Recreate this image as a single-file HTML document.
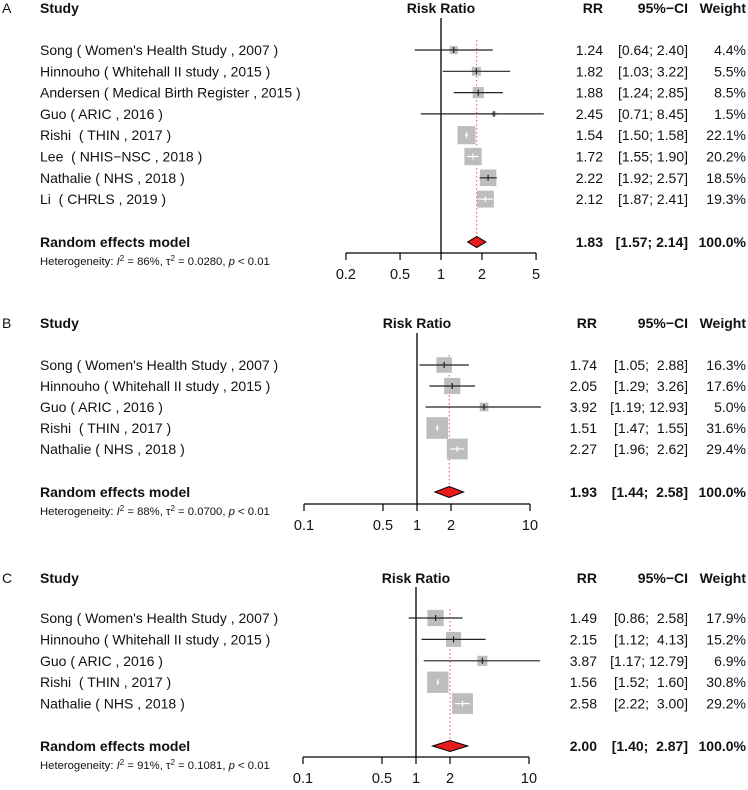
<!DOCTYPE html>
<html><head><meta charset="utf-8"><style>
body{margin:0;background:#fff}
svg{display:block;font-family:"Liberation Sans",Arial,sans-serif}
text{white-space:pre}
</style></head><body>
<svg id="c" width="748" height="790"></svg>
<script>
const studiesA=["Song ( Women's Health Study , 2007 )","Hinnouho ( Whitehall II study , 2015 )","Andersen ( Medical Birth Register , 2015 )","Guo ( ARIC , 2016 )","Rishi  ( THIN , 2017 )","Lee  ( NHIS−NSC , 2018 )","Nathalie ( NHS , 2018 )","Li  ( CHRLS , 2019 )"];
const rrA=[1.24,1.82,1.88,2.45,1.54,1.72,2.22,2.12];
const loA=[0.64,1.03,1.24,0.71,1.50,1.55,1.92,1.87];
const hiA=[2.40,3.22,2.85,8.45,1.58,1.90,2.57,2.41];
const wA=[4.4,5.5,8.5,1.5,22.1,20.2,18.5,19.3];
const pooledA=[1.83,1.57,2.14];
const hetA=["86%","0.0280","< 0.01"];
const ticksA=[0.2,0.5,1,2,5];

const studiesB=["Song ( Women's Health Study , 2007 )","Hinnouho ( Whitehall II study , 2015 )","Guo ( ARIC , 2016 )","Rishi  ( THIN , 2017 )","Nathalie ( NHS , 2018 )"];
const rrB=[1.74,2.05,3.92,1.51,2.27];
const loB=[1.05,1.29,1.19,1.47,1.96];
const hiB=[2.88,3.26,12.93,1.55,2.62];
const wB=[16.3,17.6,5.0,31.6,29.4];
const pooledB=[1.93,1.44,2.58];
const hetB=["88%","0.0700","< 0.01"];
const ticksB=[0.1,0.5,1,2,10];

const studiesC=studiesB;
const rrC=[1.49,2.15,3.87,1.56,2.58];
const loC=[0.86,1.12,1.17,1.52,2.22];
const hiC=[2.58,4.13,12.79,1.60,3.00];
const wC=[17.9,15.2,6.9,30.8,29.2];
const pooledC=[2.00,1.40,2.87];
const hetC=["91%","0.1081","< 0.01"];
const ticksC=[0.1,0.5,1,2,10];

const NS="http://www.w3.org/2000/svg";
const svg=document.getElementById('c');
function mk(tag,attrs,parent){const e=document.createElementNS(NS,tag);for(const k in attrs)e.setAttribute(k,attrs[k]);(parent||svg).appendChild(e);return e;}
function txt(s,x,y,o,parent){const e=mk('text',Object.assign({x:x,y:y,'font-size':14,fill:'#111'},o||{}),parent);e.textContent=s;return e;}
const f2=v=>v.toFixed(2);

function panel(cfg){
  const g=mk('g',{});
  
  
  const x=v=>cfg.x1+Math.log10(v)*cfg.ppd;
  const pad=Math.max(...cfg.hi)>=10;
  const fmtHi=v=>(pad&&v<10?' ':'')+f2(v);
  const fmtCI=(l,h)=>'['+f2(l)+'; '+fmtHi(h)+']';
  const lab=txt(cfg.letter,2,cfg.top+13,{'font-size':14},g);
  
  const hdr=[["Study",40,'start'],["Risk Ratio",cfg.x1,'middle'],["RR",cfg.rrX,'end'],["95%−CI",688,'end'],["Weight",746,'end']];
  hdr.forEach(h=>{const t=txt(h[0],h[1],cfg.top+13,{'font-weight':'bold','text-anchor':h[2]},g);
    });
  const nl=mk('line',{x1:x(1),x2:x(1),y1:cfg.lineTop,y2:cfg.axisY,stroke:'#000','stroke-width':1.3},g);
  
  const pd=mk('line',{x1:x(cfg.pooled[0]),x2:x(cfg.pooled[0]),y1:cfg.lineTop+22,y2:cfg.diamondY,stroke:'#ee5050','stroke-width':1,'stroke-dasharray':'1.5,2.5'},g);
  
  cfg.studies.forEach((s,i)=>{
    const y=cfg.rowY+i*cfg.rowH;
    const st=txt(s,40,y+5,{},g);
    const size=3.85*Math.sqrt(cfg.w[i]);
    const cx=x(cfg.rr[i]);
    const sq=mk('rect',{x:cx-size/2,y:y-size/2,width:size,height:size,fill:'#bdbdbd'},g);
    
    const lo=x(cfg.lo[i]),hi=x(Math.min(cfg.hi[i],cfg.max));
    const inside=lo>cx-size/2&&hi<cx+size/2;
    const col=inside?'#fff':'#222';
    const ci=mk('line',{x1:lo,x2:hi,y1:y,y2:y,stroke:col,'stroke-width':1.2},g);
    
    const tk=mk('line',{x1:cx,x2:cx,y1:y-3,y2:y+3,stroke:col,'stroke-width':1.2},g);
    
    const r=txt(f2(cfg.rr[i]),cfg.rrX,y+5,{'text-anchor':'end'},g);
    const c=txt(fmtCI(cfg.lo[i],cfg.hi[i]),688,y+5,{'text-anchor':'end'},g);
    const w=txt(cfg.w[i].toFixed(1)+'%',746,y+5,{'text-anchor':'end'},g);
  });
  const dy=cfg.diamondY;
  const rm=txt("Random effects model",40,dy+5,{'font-weight':'bold'},g);
  const dm=mk('polygon',{points:`${x(cfg.pooled[1])},${dy} ${x(cfg.pooled[0])},${dy-5.5} ${x(cfg.pooled[2])},${dy} ${x(cfg.pooled[0])},${dy+5.5}`,fill:'#e81c1c',stroke:'#000','stroke-width':1},g);
  
  const pr=[[f2(cfg.pooled[0]),cfg.rrX],[fmtCI(cfg.pooled[1],cfg.pooled[2]),688],['100.0%',746]];
  pr.forEach(p=>{const t=txt(p[0],p[1],dy+5,{'font-weight':'bold','text-anchor':'end'},g);});
  const het=mk('text',{x:40,y:dy+23,'font-size':11.3,fill:'#111'},g);
  
  het.innerHTML=`Heterogeneity: <tspan font-style="italic">I</tspan><tspan dy="-4" font-size="8">2</tspan><tspan dy="4"> = ${cfg.het[0]}, τ</tspan><tspan dy="-4" font-size="8">2</tspan><tspan dy="4"> = ${cfg.het[1]}, </tspan><tspan font-style="italic">p</tspan> ${cfg.het[2].replace('<','&lt;')}`;
  const t0=cfg.ticks[0],t1=cfg.ticks[cfg.ticks.length-1];
  const ax=mk('line',{x1:x(t0),x2:x(t1),y1:cfg.axisY,y2:cfg.axisY,stroke:'#000','stroke-width':1.2},g);
  
  cfg.ticks.forEach(t=>{
    const tl=mk('line',{x1:x(t),x2:x(t),y1:cfg.axisY,y2:cfg.axisY+7,stroke:'#000','stroke-width':1.2},g);
    
    const tt=txt(String(t),x(t),cfg.axisY+26,{'text-anchor':'middle','font-size':14.5},g);
    
  });
}
panel({letter:'A',top:0,x1:441,ppd:136,lineTop:18,axisY:253,rowY:50,rowH:21.3,diamondY:242,max:5.7,rrX:603,
  studies:studiesA,rr:rrA,lo:loA,hi:hiA,w:wA,pooled:pooledA,het:hetA,ticks:ticksA});
panel({letter:'B',top:315,x1:417,ppd:113,lineTop:333,axisY:504,rowY:365,rowH:21,diamondY:492,max:12.5,rrX:597,
  studies:studiesB,rr:rrB,lo:loB,hi:hiB,w:wB,pooled:pooledB,het:hetB,ticks:ticksB});
panel({letter:'C',top:570,x1:416,ppd:113,lineTop:587,axisY:757,rowY:618,rowH:21.4,diamondY:746,max:12.5,rrX:597,
  studies:studiesC,rr:rrC,lo:loC,hi:hiC,w:wC,pooled:pooledC,het:hetC,ticks:ticksC});
</script>
</body></html>
